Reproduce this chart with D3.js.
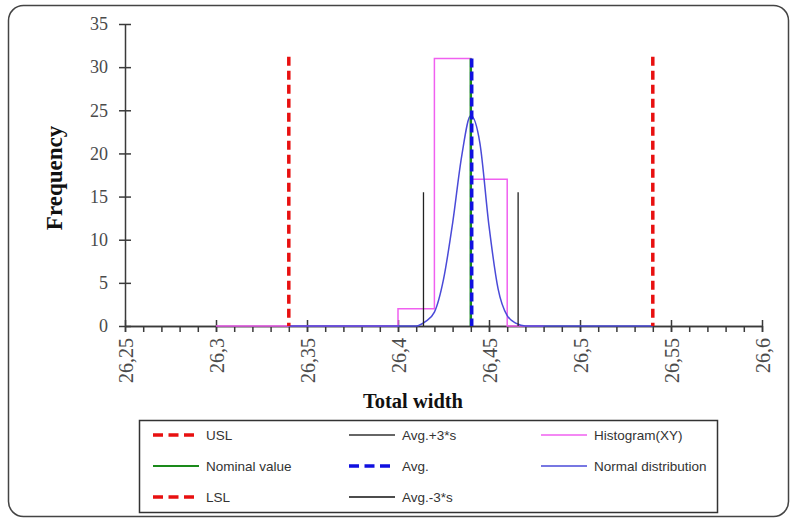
<!DOCTYPE html>
<html>
<head>
<meta charset="utf-8">
<script src="https://cdn.jsdelivr.net/npm/d3@7"></script>
<style>
  body { margin: 0; background: #fff; }
  .tick text { fill: #4a4a4a; font-family: "Liberation Serif", "DejaVu Serif", serif; font-size: 18px; }
  .xaxis .tick text { font-size: 20px; }
  .legend text { fill: #333; font-family: "Liberation Sans", Arial, sans-serif; font-size: 13.5px; }
</style>
</head>
<body>
<div class="chart"></div>
<script>
// Process capability chart: histogram + fitted normal + spec limits

// x axis ticks
var xTicks = [26.25, 26.3, 26.35, 26.4, 26.45, 26.5, 26.55, 26.6];
var xTickLabels = ["26,25", "26,3", "26,35", "26,4", "26,45", "26,5", "26,55", "26,6"];
var yTicks = [0, 5, 10, 15, 20, 25, 30, 35];

// histogram bins (edges and counts)
var binEdges = [26.30, 26.32, 26.34, 26.36, 26.38, 26.40, 26.42, 26.44, 26.46, 26.48];
var binCounts = [0, 0, 0, 0, 0, 2, 31, 17, 0];

// normal distribution curve
var normX = [26.34, 26.41, 26.415, 26.42, 26.425, 26.43, 26.435, 26.44, 26.445, 26.45, 26.455, 26.46, 26.465, 26.47, 26.54];
var normY = [0, 0, 0.5, 1.6, 5.4, 11.9, 19.7, 24.4, 21.2, 11.6, 4.3, 1.2, 0.3, 0, 0];

// vertical reference lines
var limitNames = ["LSL", "USL"];
var limitX = [26.34, 26.54];
var limitTop = 31.2;
var nominalX = 26.44;
var avgX = 26.4405;
var avgTop = 31;
var sigmaX = [26.414, 26.466];
var sigmaTop = 15.5;

var legendItems = [
  {label: "USL", color: "#e81010", width: 3.5, dash: "10,5.5", col: 0, row: 0},
  {label: "Nominal value", color: "#1a8a1a", width: 2, dash: null, col: 0, row: 1},
  {label: "LSL", color: "#e81010", width: 3.5, dash: "10,5.5", col: 0, row: 2},
  {label: "Avg.+3*s", color: "#333", width: 1.3, dash: null, col: 1, row: 0},
  {label: "Avg.", color: "#1010e0", width: 3.5, dash: "10,5.5", col: 1, row: 1},
  {label: "Avg.-3*s", color: "#111", width: 1.3, dash: null, col: 1, row: 2},
  {label: "Histogram(XY)", color: "#f060f0", width: 1.5, dash: null, col: 2, row: 0},
  {label: "Normal distribution", color: "#4a4ad8", width: 1.5, dash: null, col: 2, row: 1}
];

var svgWidth = 795;
var svgHeight = 519;

var svg = d3.select(".chart")
  .append("svg")
  .attr("width", svgWidth)
  .attr("height", svgHeight);

// outer frame
svg.append("rect")
  .attr("x", 8.5).attr("y", 5.5)
  .attr("width", 780).attr("height", 511)
  .attr("rx", 15)
  .attr("fill", "#fff")
  .attr("stroke", "#444")
  .attr("stroke-width", 1.5);

var x = d3.scaleLinear().domain([26.25, 26.6]).range([125, 762]);
var y = d3.scaleLinear().domain([0, 35]).range([326, 24]);

// y axis
var yAxisG = svg.append("g")
  .attr("transform", "translate(" + x(26.25) + ",0)")
  .call(d3.axisLeft(y).tickValues(yTicks).tickSize(6).tickPadding(11).tickSizeOuter(0));
yAxisG.selectAll(".tick line").attr("x1", 6);

// x axis minor ticks
var minorTicks = d3.range(36).map(function(i) { return 26.25 + i * 0.01; });
svg.append("g")
  .attr("transform", "translate(0," + y(0) + ")")
  .call(d3.axisBottom(x).tickValues(minorTicks).tickSize(6).tickFormat("").tickSizeOuter(0));

// x axis major ticks
var xAxisG = svg.append("g")
  .attr("class", "xaxis")
  .attr("transform", "translate(0," + y(0) + ")")
  .call(d3.axisBottom(x).tickValues(xTicks).tickSize(6).tickSizeOuter(0)
    .tickFormat(function(d, i) { return xTickLabels[i]; }));
xAxisG.selectAll(".tick line").attr("y1", -6);
xAxisG.selectAll(".tick text")
  .attr("transform", "rotate(-90)")
  .attr("text-anchor", "end")
  .attr("x", -12)
  .attr("y", 0)
  .attr("dy", "0.35em");

svg.selectAll(".domain, .tick line")
  .attr("stroke", "#3a3a3a")
  .attr("stroke-width", 1.5);

// histogram as step line
var histPts = [[binEdges[0], 0]];
binCounts.forEach(function(c, i) {
  histPts.push([binEdges[i], c]);
  histPts.push([binEdges[i + 1], c]);
});
histPts.push([binEdges[binEdges.length - 1], 0]);

var line = d3.line()
  .x(function(d) { return x(d[0]); })
  .y(function(d) { return y(d[1]); });

svg.append("path")
  .datum(histPts)
  .attr("d", line)
  .attr("fill", "none")
  .attr("stroke", "#f060f0")
  .attr("stroke-width", 1.5);

// normal curve
var normPts = normX.map(function(v, i) { return [v, normY[i]]; });
svg.append("path")
  .datum(normPts)
  .attr("d", line.curve(d3.curveMonotoneX))
  .attr("fill", "none")
  .attr("stroke", "#4a4ad8")
  .attr("stroke-width", 1.5);

// +/- 3 sigma
svg.selectAll(".sigma")
  .data(sigmaX)
  .enter()
  .append("line")
  .attr("x1", d => x(d)).attr("x2", d => x(d))
  .attr("y1", y(sigmaTop)).attr("y2", y(0))
  .attr("stroke", "#222")
  .attr("stroke-width", 1.3);

// nominal value
svg.append("line")
  .attr("x1", x(nominalX)).attr("x2", x(nominalX))
  .attr("y1", y(avgTop)).attr("y2", y(0))
  .attr("stroke", "#1a8a1a")
  .attr("stroke-width", 2.5);

// average
svg.append("line")
  .attr("x1", x(avgX)).attr("x2", x(avgX))
  .attr("y1", y(avgTop)).attr("y2", y(0))
  .attr("stroke", "#1010e0")
  .attr("stroke-width", 3.5)
  .attr("stroke-dasharray", "9,4");

// spec limits
svg.selectAll(".limit")
  .data(limitX)
  .enter()
  .append("line")
  .attr("x1", d => x(d)).attr("x2", d => x(d))
  .attr("y1", y(limitTop)).attr("y2", y(0))
  .attr("stroke", "#e81010")
  .attr("stroke-width", 3.5)
  .attr("stroke-dasharray", "9,5");

// axis titles
svg.append("text")
  .attr("transform", "translate(62,178) rotate(-90)")
  .attr("text-anchor", "middle")
  .style("font-family", "'Liberation Serif', serif")
  .style("font-weight", "bold")
  .style("font-size", "23px")
  .attr("fill", "#111")
  .text("Frequency");

svg.append("text")
  .attr("x", 413)
  .attr("y", 408)
  .attr("text-anchor", "middle")
  .style("font-family", "'Liberation Serif', serif")
  .style("font-weight", "bold")
  .style("font-size", "20.5px")
  .attr("fill", "#111")
  .text("Total width");

// legend
var legend = svg.append("g").attr("class", "legend");
legend.append("rect")
  .attr("x", 139.5).attr("y", 420.5)
  .attr("width", 578).attr("height", 92)
  .attr("fill", "none")
  .attr("stroke", "#333")
  .attr("stroke-width", 1.5);

var colX = [153, 349, 541];
var rowY = [435, 466, 497];

var items = legend.selectAll(".item")
  .data(legendItems)
  .enter()
  .append("g")
  .attr("transform", d => "translate(" + colX[d.col] + "," + rowY[d.row] + ")");

items.append("line")
  .attr("x1", 0).attr("x2", 46)
  .attr("stroke", d => d.color)
  .attr("stroke-width", d => d.width)
  .attr("stroke-dasharray", d => d.dash);

items.append("text")
  .attr("x", 53)
  .attr("dy", "0.35em")
  .text(d => d.label);
</script>
</body>
</html>
